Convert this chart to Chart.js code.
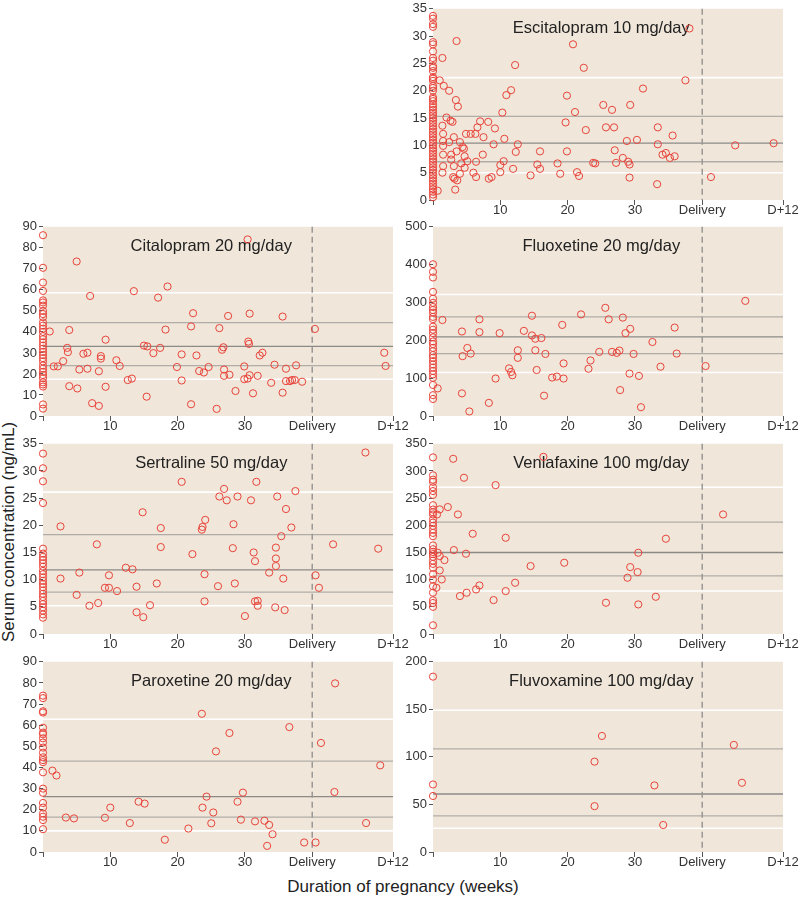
<!DOCTYPE html>
<html><head><meta charset="utf-8">
<script src="https://cdn.jsdelivr.net/npm/chart.js@4/dist/chart.umd.min.js"></script>
<style>
html,body{margin:0;padding:0;background:#fff;}
body{width:800px;height:901px;position:relative;overflow:hidden;font-family:"Liberation Sans",Arial,sans-serif;}
.pc{position:absolute;}
.ytitle{position:absolute;left:9px;top:532px;transform:translate(-50%,-50%) rotate(-90deg);font-size:17px;color:#222;white-space:nowrap;}
.xtitle{position:absolute;left:403px;top:887px;transform:translate(-50%,-50%);font-size:17px;color:#222;white-space:nowrap;}
</style></head>
<body>
<div class="ytitle">Serum concentration (ng/mL)</div>
<div class="xtitle">Duration of pregnancy (weeks)</div>
<script>
// ---- x axis ticks (weeks) ----
const xTickValues = [0, 10, 20, 30, 40, 52];
const xTickLabels = ['', '10', '20', '30', 'Delivery', 'D+12'];
const deliveryWeek = 40;

// ---- Escitalopram ----
const escPre = [33.7,33.2,32.2,31.7,28.9,28.5,27.2,26,25.5,24.5,24.2,23.6,22.5,22.2,21.8,20.9,20.5,20,18.8,18.5,18.1,17.5,17,16.5,16,15.5,15,14.5,14,13.5,13,12.5,12,11.5,11,10.5,10,9.5,9,8.5,8,7.5,7,6.5,6,5.5,5,4.5,4,3.5,3,2.5,2,1.5,1,0.5];
const escPts = [[0.7,1.7],[1.4,26],[1.0,21.9],[1.6,20.9],[2.4,20],[3.5,29.1],[3.4,18.3],[3.7,17.1],[2.0,15.1],[2.6,14.5],[2.9,14.3],[1.4,13.6],[1.5,12.1],[1.5,10.8],[1.5,9.9],[1.5,8.3],[1.5,6.2],[1.4,5.0],[2.4,10.6],[3.1,11.5],[2.7,8.3],[2.7,7.4],[3.5,8.9],[3.1,6.2],[3.0,4.2],[3.2,3.9],[3.6,3.6],[3.3,1.9],[4.0,4.8],[4.0,10.6],[4.4,9.7],[4.6,9.4],[4.7,8.0],[4.2,6.7],[4.7,5.9],[5.1,7.1],[4.9,12.1],[5.6,12.1],[6.3,12.1],[6.6,13.3],[7.0,14.4],[7.4,8.3],[7.5,11.5],[6.4,7.0],[6.0,5.0],[6.4,4.2],[8.2,14.3],[9.2,13.1],[9.0,10.2],[8.3,3.9],[8.7,4.2],[10.3,16.0],[10.9,19.2],[11.6,20.1],[12.2,24.7],[10.6,11.2],[12.6,10.2],[12.3,8.8],[10.5,7.1],[10.0,6.4],[10.0,5.1],[11.9,5.7],[14.5,4.5],[15.9,8.9],[15.5,6.5],[15.9,5.7],[18.5,6.7],[18.9,4.8],[19.9,19.1],[19.7,14.2],[19.9,8.9],[20.8,28.5],[21.1,16.1],[21.4,5.1],[21.7,4.4],[22.4,24.2],[22.7,12.8],[23.8,6.8],[24.1,6.7],[25.3,17.4],[25.7,13.3],[26.6,16.5],[26.9,13.3],[27.0,9.1],[27.2,6.8],[28.2,7.7],[28.8,10.8],[29.0,7.0],[29.2,6.5],[29.3,17.4],[29.2,4.1],[30.3,11.0],[31.2,20.4],[33.3,2.9],[33.4,13.3],[33.4,10.2],[34.1,8.3],[34.6,8.6],[35.2,7.7],[35.6,11.8],[35.9,8.0],[37.5,21.9],[38.1,31.4],[41.3,4.2],[44.9,10.0],[50.6,10.4]];
const escRange = [5.0, 22.4];
const escQuart = [7.0, 15.3];
const escMedian = 10.4;

// ---- Citalopram ----
const citPre = [86,70.5,63.5,59.5,55,54,52.5,50,48.5,47,44.5,43,41.5,40,38,36.5,35,33.5,32,30.5,29,27.5,26,24,22.5,21,19.5,18,16,15,14,5.5,3.5];
const citPts = [[1.0,40.2],[1.6,23.6],[2.2,23.6],[3.0,26.1],[3.6,32.4],[3.7,30.4],[3.9,40.9],[3.9,14.2],[5.0,73.5],[5.1,13.1],[5.4,22.1],[6.0,29.6],[6.6,30.1],[6.6,22.5],[7.0,57.1],[7.3,6.1],[8.3,4.8],[8.3,21.3],[8.6,28.5],[8.6,27.3],[9.3,36.3],[9.3,13.9],[10.9,26.5],[11.4,23.8],[12.6,17.1],[13.2,17.8],[13.5,59.4],[15.0,33.5],[15.5,33.1],[15.4,9.2],[16.4,29.9],[17.1,56.3],[17.4,32.4],[18.2,41.1],[18.5,61.6],[19.9,23.3],[20.6,29.3],[20.6,16.9],[22.0,42.6],[22.3,48.9],[22.0,5.6],[22.8,28.8],[23.2,21.4],[23.9,20.7],[24.6,23.3],[25.8,3.4],[26.2,41.8],[26.6,31.5],[26.8,32.7],[26.9,22.1],[26.9,19.1],[27.7,19.6],[27.5,47.6],[28.6,11.9],[29.9,23.6],[29.9,17.5],[30.4,17.8],[30.5,35.4],[30.6,34.3],[30.7,19.4],[30.7,48.7],[30.4,84],[31.2,10.8],[31.9,19.1],[32.2,28.8],[32.6,30.1],[33.9,15.8],[34.4,24.4],[35.6,11.1],[35.6,47.3],[36.1,22.5],[36.1,16.6],[36.7,16.6],[37.0,17.1],[37.4,17.1],[37.6,24.1],[38.5,16.3],[40.4,41.4],[50.7,30.1],[50.9,23.8]];
const citRange = [17.5, 58.6];
const citQuart = [24.0, 44.4];
const citMedian = 33.1;

// ---- Fluoxetine ----
const fluPre = [401,381,366,328,310,299,288,280,273,262,256,236,228,219,208,197,190,180,171,161,154,145,136,128,119,110,101,82,55,45];
const fluPts = [[0.7,72.9],[1.4,253.7],[4.3,223.3],[4.3,59.8],[4.4,158.1],[5.1,179.8],[5.6,165],[5.4,12],[6.9,255.5],[6.9,221.6],[8.3,34.6],[9.3,99],[9.9,219],[11.3,125.9],[11.6,116.3],[11.8,107.7],[12.6,173.7],[12.6,153.7],[13.5,225],[14.7,265],[14.7,212.9],[15.2,204.2],[16.1,206],[15.2,173.7],[15.4,121.6],[16.7,164],[16.5,53.7],[17.7,101.6],[18.4,104.2],[19.4,99],[19.4,139],[19.2,240.7],[22.0,268.5],[23.1,124.9],[23.4,146.8],[24.7,169.4],[25.6,285.9],[26.1,255.5],[26.6,169.4],[27.3,166.8],[27.7,172.9],[27.8,68.5],[28.2,260],[28.6,219],[29.3,230.3],[29.2,112],[29.8,164],[30.6,105.9],[30.9,23.3],[32.6,195.5],[33.8,130.3],[35.9,233.7],[36.2,165],[40.5,132],[46.4,304.2]];
const fluRange = [115, 321];
const fluQuart = [165, 262];
const fluMedian = 209;

// ---- Sertraline ----
const serPre = [33.2,30.5,28.1,24.1,15.7,14.8,14.2,13.6,13,12.4,11.6,11,10.4,9.8,9.2,8.6,8,7.4,6.8,6.1,5.5,4.9,4.3,3.6,3.0];
const serPts = [[2.6,19.8],[2.6,10.2],[5.0,7.2],[5.4,11.3],[6.9,5.2],[8.2,5.7],[8.0,16.5],[9.2,8.5],[9.8,8.5],[9.8,10.8],[11.0,7.9],[12.3,12.2],[13.3,11.9],[13.9,8.7],[13.9,4.0],[14.8,22.4],[14.9,3.1],[15.9,5.3],[16.9,9.3],[17.5,19.5],[17.5,16.0],[20.6,28.0],[22.2,14.7],[23.6,19.2],[23.7,19.7],[24.1,21.0],[24.0,11.0],[24.0,6.0],[26.0,8.8],[26.2,25.3],[26.9,26.7],[27.3,24.6],[28.3,20.2],[28.2,15.8],[28.5,9.3],[28.9,25.3],[30.0,3.3],[30.9,24.6],[31.7,28.0],[31.3,15.0],[31.5,13.4],[31.5,6.0],[31.9,6.1],[31.9,5.2],[33.6,11.3],[34.5,4.9],[34.6,15.9],[34.6,13.9],[34.6,12.5],[34.8,25.3],[35.4,18.0],[35.7,10.2],[35.9,4.4],[36.1,23.0],[36.9,19.6],[37.5,26.3],[40.5,10.8],[41.0,8.5],[43.1,16.5],[47.9,33.4],[49.8,15.7]];
const serRange = [5.2, 26.1];
const serQuart = [7.7, 18.3];
const serMedian = 11.8;

// ---- Venlafaxine ----
const venPre = [325,292,284,280,270,263,256,237,229,224,220,211,205,199,192,186,180,163,156,151,147,142,135,129,122,110,100,88,76,62,57,50,16];
const venPts = [[3.0,322.4],[4.6,287.5],[9.3,274],[16.4,326],[2.2,233.6],[1.0,229.3],[0.6,220],[3.7,220],[5.9,184.5],[10.8,177.1],[3.1,154.4],[4.9,147.7],[0.7,149.5],[1.0,143.4],[1.7,136],[1.0,117],[1.3,100.4],[0.5,85.1],[4.0,69.8],[5.0,75.9],[6.4,82],[6.9,89.4],[9.0,62.4],[10.8,79],[12.2,94.3],[14.5,125],[19.5,131.1],[25.7,57.5],[28.9,103.5],[29.3,123.1],[30.5,149.5],[30.4,113.9],[30.5,54.4],[33.1,68.5],[34.6,175.3],[43.1,220]];
const venRange = [79, 270];
const venQuart = [107, 206];
const venMedian = 150;

// ---- Paroxetine ----
const parPre = [74,72.8,66.6,66,58.8,56.5,55.7,53.8,51.8,49.4,47,44.8,43.5,42.5,37.7,30,28,23.2,21,18.2,16.7,15.1,10.8];
const parPts = [[1.4,38.5],[2.0,36.2],[3.4,16.3],[4.6,15.9],[9.2,16.2],[10.0,21],[12.9,13.7],[14.2,23.8],[15.1,22.9],[18.1,5.8],[21.6,11.1],[23.6,65.4],[23.7,21],[24.3,26.2],[25.0,13.6],[25.3,18.7],[25.7,47.6],[27.7,56.3],[28.9,23.8],[29.7,28.1],[29.4,15.3],[31.5,14.5],[32.9,14.8],[33.6,12.8],[34.1,8.4],[33.3,2.9],[36.6,59.1],[38.8,4.5],[40.5,4.5],[41.3,51.6],[43.3,28.4],[43.4,79.8],[48.0,13.7],[50.1,41]];
const parRange = [10, 62.8];
const parQuart = [16.5, 43];
const parMedian = 26.2;

// ---- Fluvoxamine ----
const fvxPre = [184.4, 71, 58.9];
const fvxPts = [[24.0,95],[24.0,48.2],[25.1,122],[32.9,70],[34.2,28.4],[44.7,112.6],[45.9,72.8]];
const fvxRange = [25, 149];
const fvxQuart = [38, 108.5];
const fvxMedian = 61;

const panels = [
  {name:'Escitalopram 10 mg/day', col:1, row:0, max:35, step:5, pre:escPre, pts:escPts, range:escRange, quart:escQuart, med:escMedian},
  {name:'Citalopram 20 mg/day', col:0, row:1, max:90, step:10, pre:citPre, pts:citPts, range:citRange, quart:citQuart, med:citMedian},
  {name:'Fluoxetine 20 mg/day', col:1, row:1, max:500, step:100, pre:fluPre, pts:fluPts, range:fluRange, quart:fluQuart, med:fluMedian},
  {name:'Sertraline 50 mg/day', col:0, row:2, max:35, step:5, pre:serPre, pts:serPts, range:serRange, quart:serQuart, med:serMedian},
  {name:'Venlafaxine 100 mg/day', col:1, row:2, max:350, step:50, pre:venPre, pts:venPts, range:venRange, quart:venQuart, med:venMedian},
  {name:'Paroxetine 20 mg/day', col:0, row:3, max:90, step:10, pre:parPre, pts:parPts, range:parRange, quart:parQuart, med:parMedian},
  {name:'Fluvoxamine 100 mg/day', col:1, row:3, max:200, step:50, pre:fvxPre, pts:fvxPts, range:fvxRange, quart:fvxQuart, med:fvxMedian}
];

// layout (pixels)
const colLeft = [43, 433];
const rowTop = [7, 225, 442, 660];
const rowH = [193, 191, 192, 192];
const plotW = 350, yAxW = 43, padTop = 8, padRight = 24, xAxH = 22;

Chart.defaults.font.family = '"Liberation Sans", Arial, sans-serif';
Chart.defaults.font.size = 13;
Chart.defaults.color = '#333';

const panelPlugin = {
  id: 'panelDeco',
  beforeDatasetsDraw(chart) {
    const p = chart.options.plugins.panelDeco;
    const {ctx, chartArea:a, scales:{x, y}} = chart;
    ctx.save();
    ctx.fillStyle = '#f0e6d9';
    ctx.fillRect(a.left, a.top, a.right - a.left, a.bottom - a.top);
    const hline = (v, color, w) => {
      const py = y.getPixelForValue(v);
      ctx.strokeStyle = color; ctx.lineWidth = w;
      ctx.beginPath(); ctx.moveTo(a.left, py); ctx.lineTo(a.right, py); ctx.stroke();
    };
    p.range.forEach(v => hline(v, '#ffffff', 1.6));
    p.quart.forEach(v => hline(v, '#b0ada8', 1.3));
    hline(p.med, '#8c8a87', 1.3);
    const px = x.getPixelForValue(deliveryWeek);
    ctx.strokeStyle = '#9a9896'; ctx.lineWidth = 1.5; ctx.setLineDash([6, 4]);
    ctx.beginPath(); ctx.moveTo(px, a.top); ctx.lineTo(px, a.bottom); ctx.stroke();
    ctx.setLineDash([]);
    ctx.fillStyle = '#222';
    ctx.font = '16.5px "Liberation Sans", Arial, sans-serif';
    ctx.textAlign = 'center'; ctx.textBaseline = 'middle';
    ctx.fillText(p.title, x.getPixelForValue(25), a.top + 20);
    ctx.restore();
  }
};

panels.forEach(p => {
  const H = rowH[p.row];
  const cw = yAxW + plotW + padRight, chh = padTop + H + xAxH;
  const div = document.createElement('div');
  div.className = 'pc';
  div.style.left = (colLeft[p.col] - yAxW) + 'px';
  div.style.top = (rowTop[p.row] - padTop) + 'px';
  div.style.width = cw + 'px'; div.style.height = chh + 'px';
  const cv = document.createElement('canvas');
  cv.width = cw; cv.height = chh;
  cv.style.width = cw + 'px'; cv.style.height = chh + 'px';
  div.appendChild(cv);
  document.body.appendChild(div);
  const data = p.pre.map(v => ({x:0, y:v})).concat(p.pts.map(([wk, v]) => ({x:wk, y:v})));
  new Chart(cv, {
    type: 'scatter',
    data: {datasets: [{data, pointRadius:3.6, pointHoverRadius:3.6, borderColor:'#e8443b', backgroundColor:'rgba(0,0,0,0)', borderWidth:1, pointBorderWidth:1, clip:false}]},
    options: {
      responsive:false, animation:false, devicePixelRatio:1,
      layout:{padding:{left:0, top:padTop, right:padRight, bottom:0}},
      plugins:{legend:{display:false}, tooltip:{enabled:false}, panelDeco:{title:p.name, range:p.range, quart:p.quart, med:p.med}},
      scales:{
        x:{type:'linear', min:0, max:52,
           afterBuildTicks(s){ s.ticks = xTickValues.map(v => ({value:v})); },
           afterFit(s){ s.height = xAxH; },
           ticks:{autoSkip:false, maxRotation:0, padding:-2, color:'#333', font:{size:13},
                  callback(v){ const i = xTickValues.indexOf(v); return i >= 0 ? xTickLabels[i] : ''; }},
           grid:{drawOnChartArea:false, drawTicks:true, tickLength:5, color:'#555'},
           border:{display:false}},
        y:{type:'linear', min:0, max:p.max,
           afterFit(s){ s.width = yAxW; },
           ticks:{stepSize:p.step, padding:2, color:'#333', font:{size:13}},
           grid:{drawOnChartArea:false, drawTicks:true, tickLength:4, color:'#555'},
           border:{display:false}}
      }
    },
    plugins:[panelPlugin]
  });
});
</script>
</body></html>
